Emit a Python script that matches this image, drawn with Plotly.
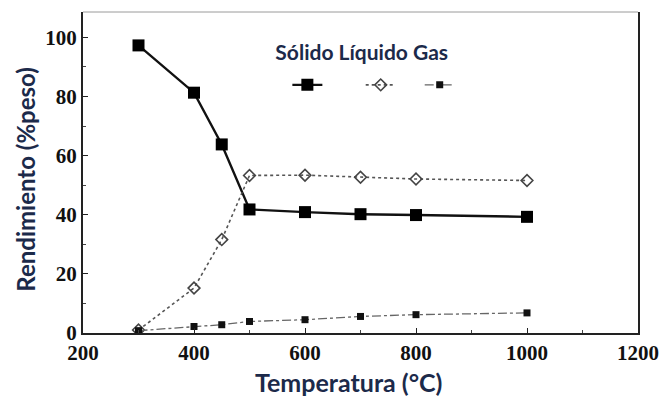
import plotly.graph_objects as go

# Temperatura de pirólisis (°C)
temperatura = [300, 400, 450, 500, 600, 700, 800, 1000]

# Rendimiento de cada fracción (% en peso)
solido = [97.3, 81.3, 63.8, 41.8, 40.9, 40.2, 39.9, 39.3]
liquido = [1.0, 15.2, 31.6, 53.3, 53.4, 52.7, 52.1, 51.6]
gas = [0.8, 2.2, 2.8, 3.9, 4.5, 5.6, 6.2, 6.8]

x_ticks = [200, 400, 600, 800, 1000, 1200]
y_ticks = [0, 20, 40, 60, 80, 100]

title_color = "#1c2a4a"
tick_font = dict(family="Liberation Serif", size=21, color="#111111", weight="bold")
NBSP = "\u00a0"

fig = go.Figure()

fig.add_trace(go.Scatter(
    x=temperatura, y=solido, name=NBSP * 2,
    mode="lines+markers",
    line=dict(color="#111111", width=2.4),
    marker=dict(symbol="square", size=12, color="#000000"),
))
fig.add_trace(go.Scatter(
    x=temperatura, y=liquido, name="",
    mode="lines+markers",
    line=dict(color="#555555", width=1.6, dash="dot"),
    marker=dict(symbol="diamond-open", size=9, color="#444444",
                line=dict(width=1.6)),
))
fig.add_trace(go.Scatter(
    x=temperatura, y=gas, name="",
    mode="lines+markers",
    line=dict(color="#666666", width=1.3, dash="dashdot"),
    marker=dict(symbol="square", size=7, color="#111111"),
))

axis_common = dict(
    showgrid=False, zeroline=False,
    showline=True, linecolor="#222222", linewidth=2,
    ticks="inside", tickcolor="#222222", ticklen=5, tickwidth=1.2,
    tickfont=tick_font,
)

fig.update_xaxes(
    range=[200, 1200], tickvals=x_ticks, ticktext=[str(v) for v in x_ticks],
    minor=dict(dtick=100, ticks="inside", ticklen=3, tickcolor="#444444"),
    **axis_common,
)
fig.update_yaxes(
    range=[0, 108.6], tickvals=y_ticks, ticktext=[str(v) for v in y_ticks],
    mirror=True,
    minor=dict(dtick=10, ticks="inside", ticklen=3, tickcolor="#444444"),
    **axis_common,
)

# Axis titles placed as annotations so they can sit slightly off-centre
fig.add_annotation(
    text="Temperatura (°C)", xref="paper", yref="paper",
    x=0.479, y=-0.152, xanchor="center", yanchor="middle", showarrow=False,
    font=dict(family="Lato", size=25, color=title_color, weight="bold"),
)
fig.add_annotation(
    text="Rendimiento (%peso)", xref="paper", yref="paper",
    x=-0.103, y=0.477, xanchor="center", yanchor="middle", showarrow=False,
    textangle=-90,
    font=dict(family="Lato", size=24, color=title_color, weight="bold"),
)

fig.update_layout(
    width=671, height=396,
    margin=dict(l=83, r=26, t=12, b=63),
    paper_bgcolor="white", plot_bgcolor="white",
    showlegend=True,
    legend=dict(
        orientation="h",
        x=0.343, y=0.935, xanchor="left", yanchor="top",
        title=dict(text="Sólido Líquido Gas", side="top",
                   font=dict(family="Lato", size=21, color=title_color, weight="bold")),
        font=dict(family="Lato", size=28),
        bgcolor="rgba(0,0,0,0)",
        itemwidth=30,
        indentation=14,
    ),
    shapes=[dict(type="line", xref="paper", yref="paper", x0=0, x1=1, y0=1, y1=1,
                 line=dict(color="#9a9a9a", width=1))],
)

fig.write_html("out.html")
